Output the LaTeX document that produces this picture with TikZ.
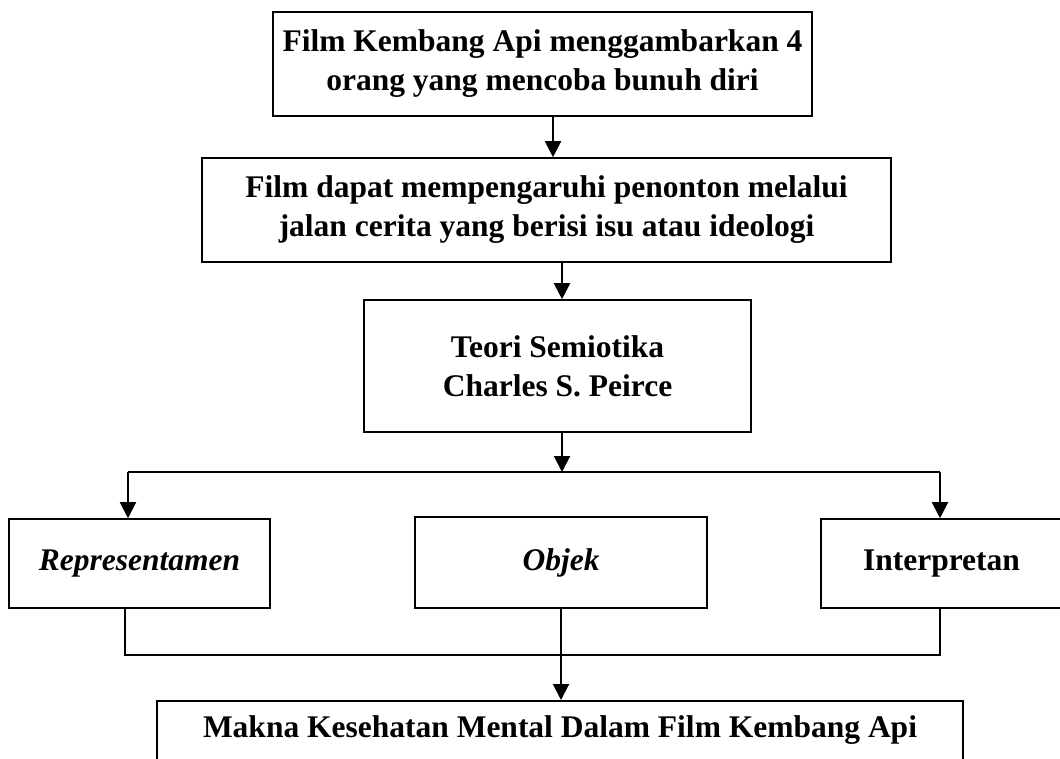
\documentclass[tikz,border=0pt]{standalone}
\usepackage{fontspec}
\setmainfont{Liberation Serif}
\usetikzlibrary{arrows.meta, positioning, calc}

\begin{document}
\begin{tikzpicture}[
        x=1pt, y=-1pt,
        box/.style={draw, line width=1.6pt, align=center, inner sep=0pt,
            font=\fontsize{31.5}{39}\selectfont\bfseries},
        arrow/.style={-{Triangle[width=16pt,length=16pt]}, line width=2pt},
        link/.style={line width=2pt}
    ]
        \useasboundingbox (0,0) rectangle (1060,758);
        \clip (0,0) rectangle (1060,758);

        % chain of boxes
        \node[box, minimum width=539pt, minimum height=104pt] (film) at (542.5,64) {Film Kembang Api menggambarkan 4\\orang yang mencoba bunuh diri};
        \node[box, minimum width=689pt, minimum height=104pt] (pengaruh) at (546.5,210) {Film dapat mempengaruhi penonton melalui\\jalan cerita yang berisi isu atau ideologi};
        \node[box, minimum width=387pt, minimum height=132pt] (teori) at (557.5,366) {Teori Semiotika\\Charles S. Peirce};

        % three elements
        \node[box, minimum width=261pt, minimum height=89pt] (rep) at (139.5,563.5) {\itshape Representamen};
        \node[box, minimum width=292pt, minimum height=91pt] (objek) at (561,562.5) {\itshape Objek};
        \node[box, minimum width=241pt, minimum height=89pt] (interp) at (941.5,563.5) {Interpretan};

        % result (runs off the page)
        \node[box, anchor=north, minimum width=806pt, inner ysep=15pt, text depth=60pt] (makna) at (560,700) {Makna Kesehatan Mental Dalam Film Kembang Api};

        \coordinate (split) at (562,472);
        \coordinate (lft) at (128,472);
        \coordinate (rgt) at (940,472);
        \coordinate (jl) at (125,655);
        \coordinate (jr) at (940,655);

        \draw[arrow] ([xshift=10.5pt]film.south) -- ([xshift=10.5pt]film.south |- pengaruh.north);
        \draw[arrow] ([xshift=15.5pt]pengaruh.south) -- ([xshift=15.5pt]pengaruh.south |- teori.north);
        \draw[arrow] (teori.south -| split) -- (split);
        \draw[link] (lft) -- (rgt);
        \draw[arrow] (lft) -- (lft |- rep.north);
        \draw[arrow] (rgt) -- (rgt |- interp.north);
        \draw[link] (rep.south -| jl) -- (jl) -- (jr) -- (interp.south -| jr);
        \draw[arrow] (objek.south) -- (objek.south |- makna.north);
    \end{tikzpicture}
\end{document}
